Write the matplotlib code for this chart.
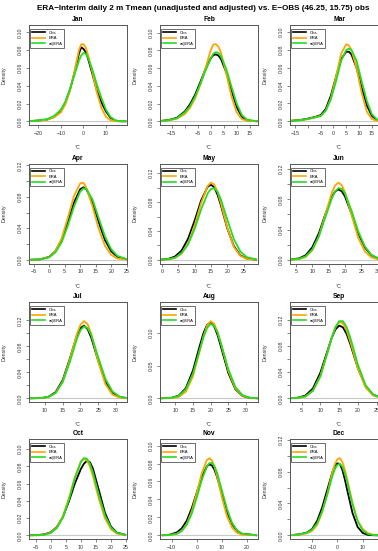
import matplotlib.pyplot as plt
from matplotlib.lines import Line2D

plt.rcParams['font.family'] = ['Liberation Sans', 'DejaVu Sans']

TITLE = "ERA\u2212Interim daily 2 m Tmean (unadjusted and adjusted) vs. E\u2212OBS (46.25, 15.75) obs"
MONTHS = ["Jan", "Feb", "Mar", "Apr", "May", "Jun", "Jul", "Aug", "Sep", "Oct", "Nov", "Dec"]
SERIES = ["Obs", "ERA", "adjERA"]
COLORS = ["black", "#FFA500", "#22DD22"]

# density curves (x in degC, density)
jan_x = [-24, -20, -16, -13, -10, -8, -6, -4, -2, -1, 0, 1, 2, 4, 6, 8, 10, 12, 14, 16, 19]
jan_obs = [0.0002, 0.0008, 0.002, 0.005, 0.012, 0.021, 0.035, 0.054, 0.076, 0.0833, 0.0815, 0.078, 0.071, 0.053, 0.034, 0.021, 0.011, 0.004, 0.0008, 0.0001, 0.0]
jan_era = [0.0002, 0.0007, 0.0018, 0.0045, 0.010, 0.019, 0.034, 0.056, 0.080, 0.0865, 0.0868, 0.083, 0.075, 0.055, 0.032, 0.015, 0.005, 0.0012, 0.0002, 0.0, 0.0]
jan_adj = [0.0003, 0.001, 0.0025, 0.006, 0.013, 0.022, 0.036, 0.052, 0.068, 0.074, 0.077, 0.076, 0.072, 0.058, 0.041, 0.026, 0.013, 0.005, 0.0012, 0.0002, 0.0]

feb_x = [-19, -16, -13, -10, -8, -6, -4, -2, 0, 1, 2, 3, 4, 6, 8, 10, 12, 14, 18]
feb_obs = [0.0005, 0.0015, 0.004, 0.011, 0.019, 0.030, 0.044, 0.059, 0.071, 0.0745, 0.0755, 0.074, 0.070, 0.055, 0.035, 0.016, 0.005, 0.001, 0.0]
feb_era = [0.0003, 0.001, 0.003, 0.008, 0.015, 0.026, 0.041, 0.060, 0.080, 0.0865, 0.087, 0.084, 0.077, 0.054, 0.028, 0.010, 0.0025, 0.0005, 0.0]
feb_adj = [0.0004, 0.0013, 0.0035, 0.010, 0.017, 0.028, 0.042, 0.057, 0.071, 0.076, 0.078, 0.077, 0.073, 0.059, 0.039, 0.020, 0.007, 0.0018, 0.0]

mar_x = [-17, -13, -10, -7, -5, -3, -1, 1, 3, 5, 6, 7, 9, 11, 13, 15, 17, 21]
mar_obs = [0.0005, 0.0015, 0.003, 0.005, 0.007, 0.014, 0.029, 0.050, 0.070, 0.078, 0.078, 0.075, 0.060, 0.038, 0.018, 0.006, 0.0015, 0.0]
mar_era = [0.0004, 0.0012, 0.0025, 0.0045, 0.006, 0.012, 0.026, 0.050, 0.076, 0.0865, 0.085, 0.080, 0.060, 0.032, 0.011, 0.0025, 0.0004, 0.0]
mar_adj = [0.0004, 0.0012, 0.0025, 0.0045, 0.006, 0.012, 0.025, 0.045, 0.068, 0.080, 0.0815, 0.080, 0.068, 0.045, 0.023, 0.008, 0.002, 0.0]

apr_x = [-6, -3, 0, 2, 4, 6, 8, 10, 11, 12, 14, 16, 18, 20, 22, 25]
apr_obs = [0.0001, 0.0005, 0.0037, 0.011, 0.025, 0.0475, 0.0725, 0.0896, 0.092, 0.0896, 0.0725, 0.0475, 0.025, 0.0108, 0.0037, 0.0005]
apr_era = [0.0, 0.0004, 0.0034, 0.011, 0.027, 0.053, 0.081, 0.097, 0.098, 0.0915, 0.0675, 0.039, 0.0177, 0.0063, 0.0017, 0.0002]
apr_adj = [0.0, 0.0004, 0.0032, 0.0093, 0.022, 0.043, 0.0675, 0.0865, 0.0906, 0.090, 0.0764, 0.0527, 0.0296, 0.0135, 0.005, 0.0008]

may_x = [-0.5, 2, 4, 6, 8, 10, 12, 14, 15, 16, 17, 18, 20, 22, 24, 26, 29]
may_obs = [0.0002, 0.0013, 0.0046, 0.0127, 0.0293, 0.0543, 0.0826, 0.1013, 0.104, 0.1006, 0.0904, 0.0761, 0.0435, 0.0191, 0.0062, 0.0016, 0.0001]
may_era = [0.0001, 0.0006, 0.0026, 0.0087, 0.0228, 0.0477, 0.079, 0.1025, 0.107, 0.1044, 0.0944, 0.079, 0.0442, 0.018, 0.0055, 0.0012, 0.0001]
may_adj = [0.0001, 0.0008, 0.0029, 0.0089, 0.0215, 0.0428, 0.070, 0.0922, 0.0982, 0.0992, 0.0944, 0.0844, 0.0558, 0.0287, 0.0115, 0.0036, 0.0004]

jun_x = [3, 6, 8, 10, 12, 14, 16, 17, 18, 19, 20, 22, 24, 26, 28, 30, 33]
jun_obs = [0.0002, 0.0019, 0.0061, 0.0165, 0.035, 0.0604, 0.0835, 0.0905, 0.093, 0.0905, 0.0835, 0.0604, 0.035, 0.0165, 0.0061, 0.0019, 0.0002]
jun_era = [0.0001, 0.0009, 0.0038, 0.0125, 0.031, 0.060, 0.0895, 0.0985, 0.102, 0.0985, 0.089, 0.0588, 0.0293, 0.0112, 0.0032, 0.0007, 0.0]
jun_adj = [0.0001, 0.0013, 0.0047, 0.0134, 0.0309, 0.0564, 0.0817, 0.0905, 0.0948, 0.0937, 0.0877, 0.0645, 0.0377, 0.0178, 0.0066, 0.0019, 0.0002]

jul_x = [5.5, 9, 11, 13, 15, 17, 19, 20, 21, 22, 23, 25, 27, 29, 31, 33]
jul_obs = [0.0, 0.0004, 0.0024, 0.0095, 0.0282, 0.0612, 0.0972, 0.1085, 0.112, 0.1067, 0.094, 0.0578, 0.0259, 0.0083, 0.002, 0.0003]
jul_era = [0.0, 0.0003, 0.0018, 0.0082, 0.0262, 0.060, 0.0994, 0.1134, 0.119, 0.1145, 0.100, 0.0565, 0.0219, 0.0056, 0.001, 0.0001]
jul_adj = [0.0, 0.0004, 0.002, 0.0082, 0.0252, 0.056, 0.092, 0.105, 0.1108, 0.1083, 0.098, 0.0633, 0.0303, 0.0105, 0.0027, 0.0005]

aug_x = [5.7, 9, 11, 13, 15, 17, 18, 19, 20, 21, 22, 23, 25, 27, 29, 31, 33.4]
aug_obs = [0.0, 0.0008, 0.0041, 0.0154, 0.0423, 0.0815, 0.0998, 0.1122, 0.116, 0.1102, 0.0963, 0.0774, 0.0388, 0.0139, 0.0035, 0.0006, 0.0]
aug_era = [0.0, 0.0003, 0.0021, 0.010, 0.0333, 0.0738, 0.095, 0.1114, 0.118, 0.1141, 0.1009, 0.0821, 0.0419, 0.015, 0.0038, 0.0007, 0.0]
aug_adj = [0.0, 0.0007, 0.0036, 0.0137, 0.0376, 0.0753, 0.0935, 0.1076, 0.1138, 0.111, 0.100, 0.0828, 0.0446, 0.0173, 0.0049, 0.001, 0.0]

sep_x = [2, 4, 6, 8, 10, 12, 13, 14, 15, 16, 17, 18, 20, 22, 24, 26, 28]
sep_obs = [0.0001, 0.0009, 0.0042, 0.015, 0.0393, 0.0747, 0.0922, 0.1051, 0.111, 0.1083, 0.098, 0.0819, 0.0458, 0.0186, 0.0057, 0.0012, 0.0002]
sep_era = [0.0001, 0.0005, 0.0028, 0.0116, 0.0346, 0.0731, 0.0929, 0.1088, 0.1165, 0.1144, 0.1033, 0.0857, 0.0452, 0.0168, 0.0044, 0.0008, 0.0001]
sep_adj = [0.0001, 0.0005, 0.0027, 0.0113, 0.0336, 0.0714, 0.0919, 0.1084, 0.1178, 0.1178, 0.1084, 0.0919, 0.0511, 0.0203, 0.0058, 0.0012, 0.0002]

oct_x = [-7, -4, -2, 0, 2, 4, 6, 8, 10, 11, 12, 13, 14, 16, 18, 20, 22, 25]
oct_obs = [0.0001, 0.0004, 0.0012, 0.0035, 0.0095, 0.021, 0.039, 0.060, 0.077, 0.083, 0.0865, 0.085, 0.0775, 0.052, 0.026, 0.010, 0.003, 0.0003]
oct_era = [0.0, 0.0001, 0.0008, 0.003, 0.009, 0.022, 0.0428, 0.0676, 0.0856, 0.089, 0.087, 0.080, 0.0687, 0.0418, 0.0196, 0.0069, 0.0019, 0.0002]
oct_adj = [0.0, 0.0001, 0.0007, 0.0027, 0.0082, 0.0204, 0.0407, 0.0659, 0.0852, 0.0896, 0.089, 0.0831, 0.0729, 0.0464, 0.023, 0.0089, 0.0027, 0.0003]

nov_x = [-14, -11, -8, -6, -4, -2, 0, 2, 4, 5, 6, 7, 8, 10, 12, 14, 16, 18, 24]
nov_obs = [0.0001, 0.0006, 0.0032, 0.0078, 0.0165, 0.0305, 0.0479, 0.0652, 0.0769, 0.079, 0.0778, 0.0732, 0.0656, 0.046, 0.0264, 0.0127, 0.005, 0.0017, 0.0]
nov_era = [0.0, 0.0002, 0.0016, 0.0049, 0.0126, 0.0271, 0.0475, 0.0696, 0.0839, 0.086, 0.0836, 0.0766, 0.0667, 0.0424, 0.0213, 0.0087, 0.0028, 0.0007, 0.0]
nov_adj = [0.0, 0.0003, 0.0017, 0.0049, 0.0119, 0.0244, 0.0423, 0.062, 0.0767, 0.0804, 0.0807, 0.0772, 0.0704, 0.0501, 0.0296, 0.0141, 0.0056, 0.0018, 0.0]

dec_x = [-18, -15, -12, -10, -8, -6, -4, -2, -1, 0, 1, 2, 3, 4, 6, 8, 10, 12, 14, 16, 20]
dec_obs = [0.0003, 0.0012, 0.0035, 0.0078, 0.018, 0.035, 0.057, 0.079, 0.087, 0.0905, 0.0895, 0.082, 0.0697, 0.0552, 0.0278, 0.0105, 0.003, 0.0006, 0.0001, 0.0, 0.0]
dec_era = [0.0002, 0.0008, 0.0025, 0.0055, 0.013, 0.029, 0.0518, 0.079, 0.0895, 0.0956, 0.097, 0.092, 0.0822, 0.069, 0.0403, 0.0183, 0.008, 0.0028, 0.0008, 0.0002, 0.0]
dec_adj = [0.0003, 0.0011, 0.0032, 0.007, 0.015, 0.030, 0.0508, 0.0743, 0.0831, 0.0886, 0.0899, 0.086, 0.0774, 0.0653, 0.0387, 0.0178, 0.0064, 0.0018, 0.0004, 0.0001, 0.0]

# axis ranges and ticks as seen in each panel
x_limits = [(-24.1, 19.3), (-19.5, 18.2), (-17.0, 21.3), (-6.5, 25.1), (-0.6, 29.4), (3.2, 33.1),
            (5.5, 33.1), (5.7, 33.4), (1.9, 28.0), (-7.2, 25.3), (-14.7, 24.4), (-18.7, 20.0)]
jan_xt = [-20, -10, 0, 10]
feb_xt = [-15, -10, -5, 0, 5, 10, 15]
mar_xt = [-15, -10, -5, 0, 5, 10, 15, 20]
apr_xt = [-5, 0, 5, 10, 15, 20, 25]
may_xt = [0, 5, 10, 15, 20, 25]
jun_xt = [5, 10, 15, 20, 25, 30]
jul_xt = [10, 15, 20, 25, 30]
aug_xt = [10, 15, 20, 25, 30]
sep_xt = [5, 10, 15, 20, 25]
oct_xt = [-5, 0, 5, 10, 15, 20, 25]
nov_xt = [-10, 0, 10, 20]
dec_xt = [-10, 0, 10, 20]
hidden_xlabels = {"Feb": [-10], "Mar": [-10]}

yt_010 = [0.0, 0.02, 0.04, 0.06, 0.08, 0.10]
yl_010 = ["0.00", "0.02", "0.04", "0.06", "0.08", "0.10"]
yt_012 = [0.0, 0.02, 0.04, 0.06, 0.08, 0.10, 0.12]
yl_012 = ["0.00", "", "0.04", "", "0.08", "", "0.12"]
yt_005 = [0.0, 0.05, 0.10]
yl_005 = ["0.00", "0.05", "0.10"]
y_tick_kind = ["010", "010", "010", "012", "012", "012", "012", "005", "012", "010", "010", "012"]

curves = [
    (jan_x, jan_obs, jan_era, jan_adj, jan_xt), (feb_x, feb_obs, feb_era, feb_adj, feb_xt),
    (mar_x, mar_obs, mar_era, mar_adj, mar_xt), (apr_x, apr_obs, apr_era, apr_adj, apr_xt),
    (may_x, may_obs, may_era, may_adj, may_xt), (jun_x, jun_obs, jun_era, jun_adj, jun_xt),
    (jul_x, jul_obs, jul_era, jul_adj, jul_xt), (aug_x, aug_obs, aug_era, aug_adj, aug_xt),
    (sep_x, sep_obs, sep_era, sep_adj, sep_xt), (oct_x, oct_obs, oct_era, oct_adj, oct_xt),
    (nov_x, nov_obs, nov_era, nov_adj, nov_xt), (dec_x, dec_obs, dec_era, dec_adj, dec_xt),
]
yticks = {"010": (yt_010, yl_010), "012": (yt_012, yl_012), "005": (yt_005, yl_005)}

W, H = 378, 551
fig = plt.figure(figsize=(W / 100, H / 100), dpi=100)
fig.text(203 / W, 1 - 8 / H, TITLE, ha="center", va="center", fontsize=5.9, fontweight="bold")

col_left = [29, 160, 290]
row_top = [25, 163.5, 302, 439]
AW, AH = 98, 100
GRID = "#555555"


def fmt(v):
    return str(v).replace("-", "\u2212")


for i, month in enumerate(MONTHS):
    r, c = divmod(i, 3)
    ax = fig.add_axes([col_left[c] / W, 1 - (row_top[r] + AH) / H, AW / W, AH / H])
    x, obs, era, adj, xt = curves[i]

    ax.axhline(0, color="#C8C8C8", lw=0.8, zorder=1)
    for y, col in zip([obs, era, adj], COLORS):
        ax.plot(x, y, color=col, lw=1.3, zorder=2, solid_capstyle="butt")

    top = max(max(obs), max(era), max(adj)) * 1.2
    ax.set_ylim(-0.04 * top, 1.04 * top)
    ax.set_xlim(*x_limits[i])

    hide = hidden_xlabels.get(month, [])
    ax.set_xticks(xt)
    ax.set_xticklabels(["" if v in hide else fmt(v) for v in xt])
    yt, yl = yticks[y_tick_kind[i]]
    ax.set_yticks(yt)
    ax.set_yticklabels(yl, rotation=90, va="center")

    ax.tick_params(labelsize=3.8, length=2.0, width=0.5, pad=2.2, colors=GRID, labelcolor="#333333")
    for s in ax.spines.values():
        s.set_color(GRID)
        s.set_linewidth(0.7)

    ax.set_title(month, fontsize=4.8, fontweight="bold", pad=2.6)
    ax.set_ylabel("Density", fontsize=3.8, color="#333333")
    ax.yaxis.set_label_coords(-22 / AW, 0.5)
    ax.set_xlabel("\u00b0C", fontsize=3.8, color="#333333")
    ax.xaxis.set_label_coords(0.5, -20 / AH)

    handles = [Line2D([], [], color=col, lw=1.2) for col in COLORS]
    leg = ax.legend(handles, SERIES, loc="upper left", bbox_to_anchor=(0.012, 0.96), fontsize=3.0,
                    frameon=True, fancybox=False, edgecolor=GRID, framealpha=1, borderpad=0.45,
                    labelspacing=0.35, handlelength=3.0, handletextpad=0.9, borderaxespad=0)
    leg.get_frame().set_linewidth(0.6)

fig.savefig("out.png", dpi=100)
